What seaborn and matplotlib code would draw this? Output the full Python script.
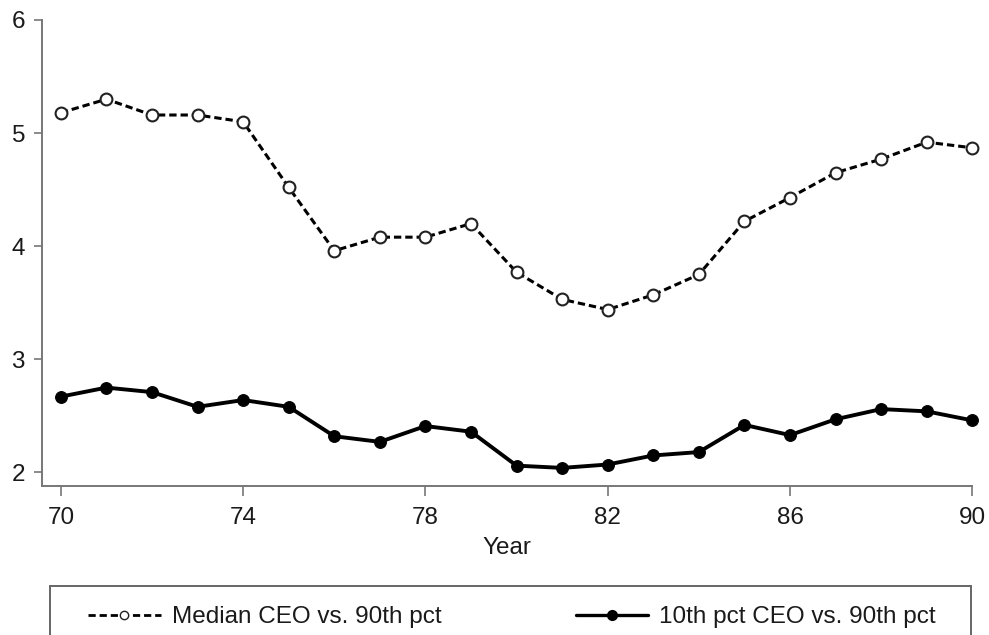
import numpy as np
import pandas as pd
import matplotlib
matplotlib.use("Agg")
import matplotlib.pyplot as plt
import seaborn as sns
from matplotlib.patches import Rectangle
from matplotlib.lines import Line2D

years = [70, 71, 72, 73, 74, 75, 76, 77, 78, 79, 80,
         81, 82, 83, 84, 85, 86, 87, 88, 89, 90]
median_vs_90 = [5.18, 5.30, 5.16, 5.16, 5.10, 4.52, 3.96, 4.08, 4.08, 4.20, 3.77,
                3.53, 3.44, 3.57, 3.75, 4.22, 4.43, 4.65, 4.77, 4.92, 4.87]
p10_vs_90 = [2.67, 2.75, 2.71, 2.58, 2.64, 2.58, 2.32, 2.27, 2.41, 2.36, 2.06,
             2.04, 2.07, 2.15, 2.18, 2.42, 2.33, 2.47, 2.56, 2.54, 2.46]
xticks = [70, 74, 78, 82, 86, 90]
yticks = [2, 3, 4, 5, 6]
labels = ["Median CEO vs. 90th pct", "10th pct CEO vs. 90th pct"]

sns.set_style("ticks")
plt.rcParams['font.family'] = ['Liberation Sans', 'DejaVu Sans']

df = pd.DataFrame({"year": years, "median": median_vs_90, "p10": p10_vs_90})

fig = plt.figure(figsize=(9.89, 6.35), dpi=100)
ax = fig.add_axes([41.7/989, 1-486/635, (972.3-41.7)/989, (486-20)/635])

sns.lineplot(data=df, x="year", y="median", ax=ax, color="black", lw=2.2,
             linestyle=(0, (2.4, 1.3)), marker="o", markersize=8.5,
             markerfacecolor="white", markeredgecolor="#222222",
             markeredgewidth=1.5, clip_on=False)
sns.lineplot(data=df, x="year", y="p10", ax=ax, color="black", lw=2.8,
             marker="o", markersize=8.5, markerfacecolor="black",
             markeredgecolor="black", clip_on=False)

ax.set_xlim(69.58, 90)
ax.set_ylim(1.88, 6)
ax.set_xticks(xticks)
ax.set_yticks(yticks)
ax.tick_params(axis="both", labelsize=17.5, colors="#1a1a1a", width=1.2,
               direction="out")
ax.tick_params(axis="x", length=7, pad=8, color="#777777")
ax.tick_params(axis="y", length=6, pad=6, color="#777777")
for s in ["top", "right"]:
    ax.spines[s].set_visible(False)
for s in ["left", "bottom"]:
    ax.spines[s].set_color("#777777")
    ax.spines[s].set_linewidth(1.4)
ax.set_xlabel("Year", fontsize=17.5, color="#1a1a1a", labelpad=6)
ax.set_ylabel("")

# legend box drawn as a frame, legend itself placed inside it
fig.patches.append(Rectangle((50/989, -0.1), (971-50)/989, 0.1+1-586/635,
                             transform=fig.transFigure, fill=False,
                             edgecolor="#666666", lw=1.4))
handles = [
    Line2D([], [], color="black", lw=2.0, linestyle=(0, (2.6, 1.4)), marker="o",
           markersize=6, markerfacecolor="white", markeredgecolor="#222222"),
    Line2D([], [], color="black", lw=2.4, marker="o", markersize=7,
           markerfacecolor="black"),
]
fig.legend(handles, labels, loc="center left", ncol=2, mode="expand",
           bbox_to_anchor=(88/989, 1-617/635, (936-88)/989, 0),
           frameon=False, fontsize=17.5, handlelength=3.0, handletextpad=0.45,
           borderpad=0, borderaxespad=0, labelcolor="#1a1a1a")

fig.savefig("out.png", dpi=100, facecolor="white")
